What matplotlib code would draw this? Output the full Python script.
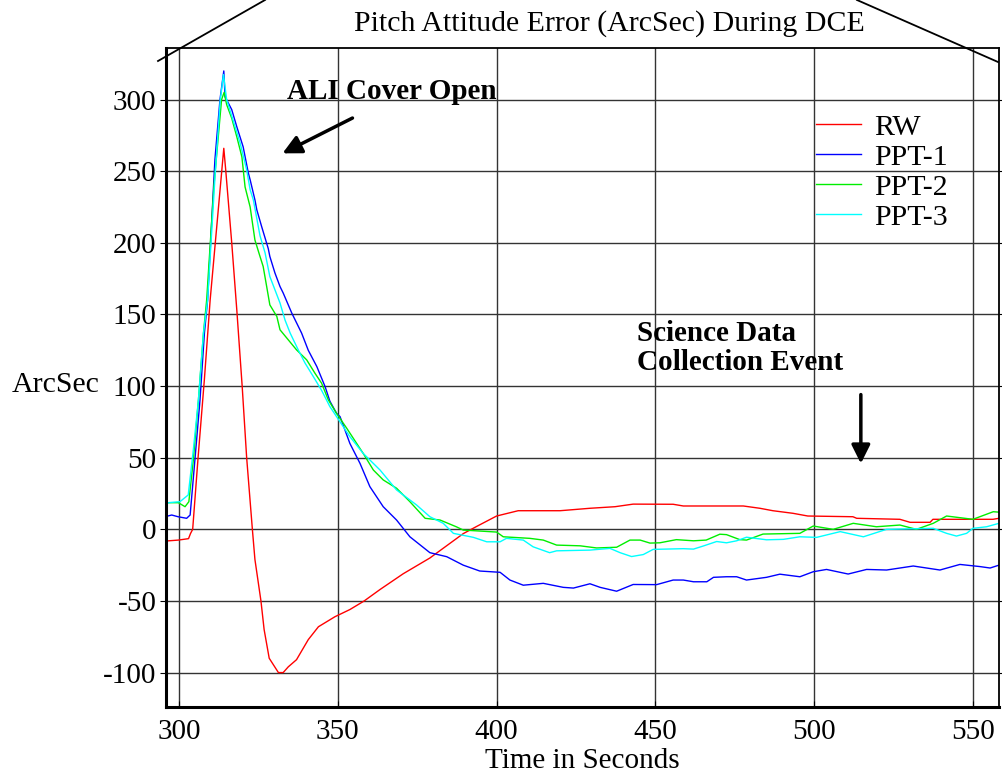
import matplotlib
matplotlib.use("Agg")
import matplotlib.pyplot as plt
from matplotlib.lines import Line2D

plt.rcParams['font.family'] = ['Liberation Serif', 'DejaVu Serif']
plt.rcParams['axes.unicode_minus'] = False

# RW
rw_t = [295.6, 299.8, 303.0, 303.6, 304.3, 306.0, 308.0, 309.8, 314.1, 314.7, 316.6, 318.2, 319.9,
        321.3, 323.1, 323.9, 325.8, 326.8, 328.4, 331.3, 332.8, 334.4, 337.0, 340.7, 343.9, 349.1,
        353.8, 358.3, 363.3, 370.6, 379.0, 389.5, 393.7, 400.0, 406.8, 420.0, 429.4, 437.3, 443.0,
        455.6, 458.8, 477.7, 482.9, 487.0, 493.3, 498.0, 512.2, 513.4, 527.0, 530.2, 536.5, 537.4,
        556.3, 558.2]
rw_v = [-8.2, -7.5, -6.5, -3, 0, 50, 105, 160, 266, 251, 200, 153, 99.5,
        50, 0, -21, -50, -70, -90, -100, -100, -96, -91, -77, -68, -61,
        -56, -50, -42, -31, -20, -3, 2, 9.3, 13, 13, 14.7, 15.8, 17.6,
        17.5, 16.3, 16.3, 14.7, 13, 11.2, 9.3, 8.8, 7.7, 7, 4.9, 4.9, 7,
        7, 7.7]

# PPT-1
p1_t = [295.6, 297.7, 299.7, 302.4, 303.5, 305.0, 306.6, 308.0, 309.0, 311.3, 312.9, 314.1, 314.5,
        316.6, 318.2, 320.2, 321.8, 322.4, 323.9, 324.5, 326.0, 328.1, 328.6, 330.2, 331.8, 332.8,
        335.5, 338.6, 340.7, 343.4, 346.0, 347.5, 349.6, 350.7, 353.8, 357.0, 360.1, 364.3, 368.5,
        372.7, 379.0, 384.3, 389.5, 394.7, 401.1, 404.2, 408.4, 414.7, 421.0, 424.2, 429.4, 432.6,
        437.8, 443.0, 450.4, 455.6, 458.8, 462.0, 466.2, 468.3, 472.4, 475.6, 478.7, 485.0, 489.2,
        495.5, 499.7, 503.9, 510.7, 516.5, 522.8, 531.2, 539.6, 545.9, 552.2, 555.4, 558.2]
p1_v = [8.8, 10, 8.8, 7.7, 10, 48.4, 90, 137, 160, 258, 300, 320, 302,
        293, 281, 267, 249, 244, 230, 223, 211.5, 196, 190.5, 179, 169.5, 165,
        151, 137, 125, 113.6, 99.6, 89.5, 81, 78.7, 60, 46, 29.8, 15.8, 6.5,
        -5.2, -16.3, -19.1, -25, -29.1, -30, -35.4, -39, -37.7, -40.5, -41, -38, -40.5,
        -43.2, -38.5, -38.6, -35.4, -35.4, -36.6, -36.6, -33.5, -33.1, -33.1, -35.4, -33.5, -31.3,
        -33.1, -29.6, -28, -31.2, -28, -28.4, -25.6, -28.4, -24.5, -26, -27, -25]

# PPT-2
p2_t = [295.6, 299.8, 301.9, 303.1, 304.5, 306.1, 307.7, 308.7, 311.0, 313.4, 314.2, 315.0, 316.6,
        318.2, 319.8, 320.8, 322.4, 323.9, 325.5, 326.5, 327.6, 328.6, 330.8, 331.8, 334.4, 337.0,
        340.2, 342.8, 344.9, 347.0, 349.6, 352.8, 358.0, 361.2, 364.3, 368.5, 372.7, 377.5, 382.2,
        387.3, 389.5, 400.0, 402.1, 410.5, 414.7, 418.9, 426.3, 431.5, 437.8, 442.0, 445.2, 448.3,
        451.4, 456.6, 462.0, 466.0, 470.3, 472.4, 476.6, 478.7, 483.9, 495.5, 499.7, 506.0, 512.3,
        519.6, 527.0, 532.2, 537.5, 541.7, 550.0, 556.4, 558.2]
p2_v = [18.6, 18.6, 15.8, 19.3, 48.4, 90, 137, 160, 240, 300, 305, 296.5, 287,
        274, 260, 239, 225, 202, 190.5, 183.5, 169.5, 156.7, 148.6, 139.3, 132.3, 125.3,
        118.3, 109, 102, 90.4, 81, 70.6, 53, 41.4, 34.5, 28.7, 19.3, 7.7, 6.5,
        1.8, -0.5, -1.9, -5.2, -6.3, -7.5, -11, -11.5, -13, -12.5, -7.5, -7.5, -9.6,
        -9.4, -7.2, -8, -7.5, -3.4, -3.7, -7.2, -7.5, -3.3, -2.8, 2.3, 0, 4.2,
        1.8, 3, 0, 4.2, 9.3, 7, 12.3, 12]

# PPT-3
p3_t = [295.6, 296.6, 300.3, 302.9, 304.5, 306.1, 307.7, 309.0, 311.3, 313.0, 314.0, 315.0, 317.1,
        319.2, 321.3, 322.4, 323.4, 325.5, 327.1, 328.6, 331.8, 333.4, 335.0, 337.6, 339.7, 342.3,
        344.9, 347.5, 351.7, 353.8, 358.0, 363.3, 368.5, 374.8, 379.0, 383.2, 386.4, 392.7, 396.9,
        401.1, 403.1, 408.4, 411.5, 416.7, 418.9, 429.4, 435.7, 438.9, 442.5, 446.2, 449.3, 458.8,
        462.0, 465.0, 469.3, 472.4, 475.6, 478.7, 485.0, 490.3, 495.5, 500.8, 508.2, 515.5, 522.8,
        537.5, 541.7, 544.8, 548.0, 550.0, 554.3, 558.2]
p3_v = [16.3, 18.6, 19.3, 24, 55.4, 90, 137, 160, 245, 300, 317.5, 300, 285,
        270, 251, 237, 230, 205, 193, 176.5, 158, 146, 137, 125, 116, 106.6,
        97, 85.7, 71.7, 64.7, 53, 41.4, 27.5, 17, 8.8, 4.2, -2.8, -5.6, -8.7,
        -8.7, -6.3, -7.5, -12.2, -16.3, -15, -14.5, -13.3, -16.3, -19, -17.6, -14, -13.5,
        -13.8, -11.7, -8.5, -9.4, -8, -5.5, -7.3, -7, -5.2, -5.6, -1.6, -5.2, 0,
        0.7, -2.8, -4.7, -2.8, 0.7, 1.8, 4.2]

x_ticks = [300, 350, 400, 450, 500, 550]
y_ticks = [-100, -50, 0, 50, 100, 150, 200, 250, 300]

fig = plt.figure(figsize=(10.03, 7.81), dpi=100)
ax = fig.add_axes([0.1655, 0.0948, 0.8305, 0.8437])

ax.plot(rw_t, rw_v, color='#ff0000', lw=1.0, label='RW')
ax.plot(p1_t, p1_v, color='#0000ff', lw=1.0, label='PPT-1')
ax.plot(p2_t, p2_v, color='#00ee00', lw=1.0, label='PPT-2')
ax.plot(p3_t, p3_v, color='#00ffff', lw=1.0, label='PPT-3')

ax.set_xlim(295.9, 558.2)
ax.set_ylim(-124, 336)
ax.set_xticks(x_ticks)
ax.set_yticks(y_ticks)
ax.grid(True, color='#333333', lw=1.0)
ax.set_axisbelow(True)
ax.tick_params(axis='both', labelsize=21, color='black')
ax.tick_params(axis='y', direction='out', length=4, pad=3, right=True)
ax.tick_params(axis='x', direction='in', length=4, pad=9)
for side in ['left', 'bottom']:
    ax.spines[side].set_linewidth(2.2)
for side in ['top', 'right']:
    ax.spines[side].set_linewidth(1.3)

ax.set_xlabel('Time in Seconds', fontsize=21, labelpad=2)
ax.set_ylabel('ArcSec', fontsize=21.5, rotation=0, ha='center', va='center')
ax.yaxis.set_label_coords(-0.133, 0.489)

fig.text(0.608, 0.970, 'Pitch Attitude Error (ArcSec) During DCE', fontsize=21.5,
         ha='center', va='center')

ax.legend(loc='upper left', bbox_to_anchor=(816 / 1003, 1 - 114 / 781),
          bbox_transform=fig.transFigure, frameon=False, fontsize=21.5,
          handlelength=1.5, handletextpad=0.45, labelspacing=0.1,
          borderpad=0, borderaxespad=0)

ax.text(334.0, 305.6, 'ALI Cover Open', fontsize=21, fontweight='bold',
        ha='left', va='center')
ax.annotate('', xy=(331.8, 261.6), xytext=(355.4, 288),
            arrowprops=dict(arrowstyle='-|>', color='black', lw=2.5, mutation_scale=28))
ax.text(444.2, 146, 'Science Data\nCollection Event', fontsize=21, fontweight='bold',
        ha='left', va='top', linespacing=1.1)
ax.annotate('', xy=(514.7, 44), xytext=(514.7, 96),
            arrowprops=dict(arrowstyle='-|>', color='black', lw=2.5, mutation_scale=28))

fig.add_artist(Line2D([158 / 1003, 265 / 1003], [1 - 61 / 781, 1.0], color='black', lw=1.3))
fig.add_artist(Line2D([857 / 1003, 998 / 1003], [1.0, 1 - 62 / 781], color='black', lw=1.3))

fig.savefig('out.png', dpi=100)
